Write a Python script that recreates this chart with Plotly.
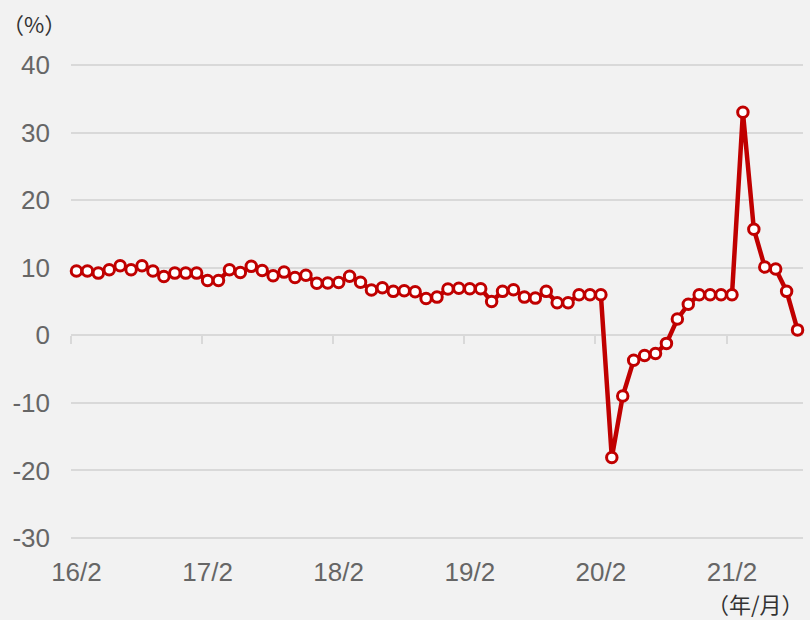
import plotly.graph_objects as go

# ---- data ----
MONTHS = [f"{16 + (1 + i) // 12}/{(1 + i) % 12 + 1}" for i in range(67)]  # 16/2 ... 21/8

VALUES = [
    9.5, 9.5, 9.2, 9.7, 10.3, 9.7, 10.3, 9.5, 8.7, 9.2, 9.2, 9.2,      # 16/2 - 17/1
    8.1, 8.1, 9.7, 9.3, 10.2, 9.6, 8.8, 9.35, 8.55, 8.9, 7.7, 7.75,   # 17/2 - 18/1
    7.8, 8.75, 7.85, 6.7, 7.05, 6.5, 6.6, 6.45, 5.45, 5.65, 6.85, 6.95,  # 18/2 - 19/1
    6.9, 6.9, 5.0, 6.5, 6.75, 5.65, 5.5, 6.5, 4.8, 4.8, 6.0, 6.0,     # 19/2 - 20/1
    6.0, -18.1, -9.0, -3.7, -3.0, -2.7, -1.2, 2.4, 4.6, 6.0, 6.0, 6.0,  # 20/2 - 21/1
    6.0, 33.0, 15.7, 10.1, 9.8, 6.5, 0.8,                              # 21/2 - 21/8
]

TICK_LABELS = ["16/2", "17/2", "18/2", "19/2", "20/2", "21/2"]
Y_TICKS = [-30, -20, -10, 0, 10, 20, 30, 40]
Y_TICK_TEXT = ["-30", "-20", "-10", "0", "10", "20", "30", "40"]
Y_RANGE = [-30.15, 40.15]  # tiny pad so the -30 and 40 grid lines are drawn

UNIT_Y = "（%）"
UNIT_X = "（年/月）"

# ---- styling ----
BG = "#f2f2f2"
GRID = "#d9d9d9"
RED = "#c00000"
LABEL = "#666666"
FONT = "Liberation Sans, Arial, sans-serif"
CJK = "Noto Sans CJK JP, sans-serif"

x_range = [-0.5, len(MONTHS) - 0.5]
boundaries = [MONTHS.index(t) - 0.5 for t in TICK_LABELS]
zero_pos = (0 - Y_RANGE[0]) / (Y_RANGE[1] - Y_RANGE[0])

fig = go.Figure()
fig.add_trace(go.Scatter(
    x=MONTHS, y=VALUES, mode="lines+markers",
    line=dict(color=RED, width=4.5),
    marker=dict(size=10.5, color="white", line=dict(color=RED, width=3)),
    cliponaxis=False, showlegend=False, hoverinfo="x+y",
))
# empty helper trace so the tick axis sitting on the zero line is drawn
fig.add_trace(go.Scatter(
    x=boundaries, y=[None] * len(boundaries), xaxis="x2", mode="lines",
    showlegend=False, hoverinfo="skip",
))

fig.update_layout(
    width=810, height=620,
    margin=dict(l=71, r=7, t=64, b=81),
    paper_bgcolor=BG, plot_bgcolor=BG,
    showlegend=False,
    xaxis=dict(
        type="category", range=x_range,
        tickmode="array", tickvals=TICK_LABELS, ticktext=TICK_LABELS,
        ticks="", showgrid=False, zeroline=False, showline=False,
        tickfont=dict(family=FONT, size=26, color=LABEL),
        ticklabelstandoff=15,
    ),
    xaxis2=dict(
        type="linear", overlaying="x", anchor="free", position=zero_pos,
        range=x_range, tickmode="array", tickvals=boundaries,
        ticks="outside", ticklen=8, tickwidth=2, tickcolor=GRID,
        showticklabels=False, showgrid=False, zeroline=False, showline=False,
    ),
    yaxis=dict(
        range=Y_RANGE, tickmode="array", tickvals=Y_TICKS, ticktext=Y_TICK_TEXT,
        showgrid=True, gridcolor=GRID, gridwidth=1.5,
        zeroline=True, zerolinecolor=GRID, zerolinewidth=1.5,
        ticks="", showline=False,
        tickfont=dict(family=FONT, size=26, color=LABEL),
        ticklabelstandoff=20,
    ),
    annotations=[
        dict(text=UNIT_Y, xref="paper", yref="paper", x=-0.05, y=1.086,
             xanchor="center", yanchor="middle", showarrow=False,
             font=dict(family=CJK, size=22, color="#333333")),
        dict(text=UNIT_X, xref="paper", yref="paper", x=1.004, y=-0.135,
             xanchor="right", yanchor="middle", showarrow=False,
             font=dict(family=CJK, size=22, color="#333333")),
    ],
)

fig.write_html(
    "out.html",
    config={"displayModeBar": False},
    post_script="document.body.style.margin='0';document.body.style.overflow='hidden';",
)
